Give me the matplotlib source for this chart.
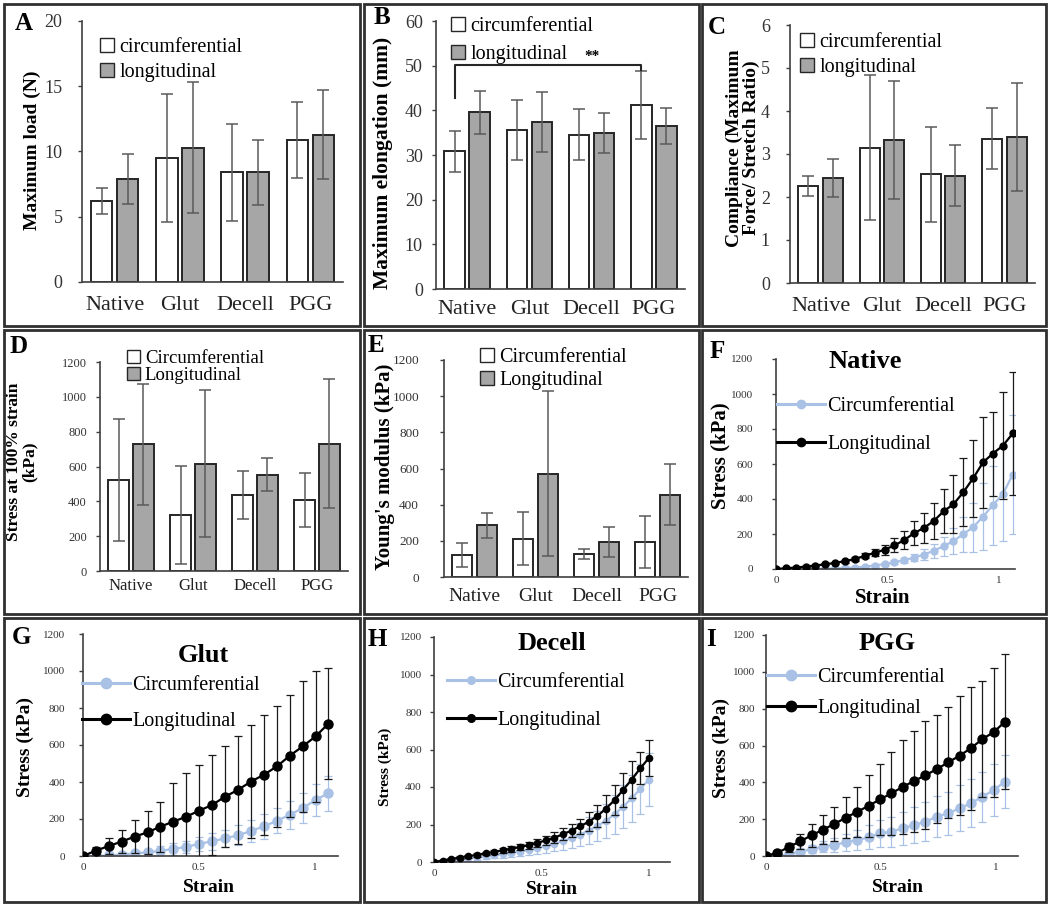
import numpy as np
import matplotlib
matplotlib.use('Agg')
import matplotlib.pyplot as plt
from matplotlib.patches import Patch, Rectangle
from matplotlib.lines import Line2D

plt.rcParams['font.family'] = ['Liberation Serif', 'DejaVu Serif']

# ------------------------------------ DATA ------------------------------------#
groups = ['Native', 'Glut', 'Decell', 'PGG']

load_circ = [6.2, 9.5, 8.4, 10.9]
load_circ_err = [1.0, 4.9, 3.7, 2.9]
load_long = [7.9, 10.3, 8.4, 11.3]
load_long_err = [1.9, 5.0, 2.5, 3.4]

elong_circ = [30.8, 35.6, 34.5, 41.2]
elong_circ_err = [4.5, 6.7, 5.7, 7.6]
elong_long = [39.6, 37.3, 35.0, 36.5]
elong_long_err = [4.8, 6.7, 4.5, 4.0]

comp_circ = [2.25, 3.15, 2.53, 3.36]
comp_circ_err = [0.23, 1.68, 1.1, 0.71]
comp_long = [2.44, 3.32, 2.5, 3.4]
comp_long_err = [0.45, 1.37, 0.7, 1.25]

stress_circ = [525, 321, 436, 407]
stress_circ_err = [350, 283, 140, 157]
stress_long = [728, 617, 554, 732]
stress_long_err = [348, 420, 96, 369]

modulus_circ = [124, 212, 125, 194]
modulus_circ_err = [66, 148, 28, 142]
modulus_long = [286, 572, 194, 456]
modulus_long_err = [68, 458, 81, 170]

native_strain = [0, 0.044, 0.088, 0.133, 0.177, 0.221, 0.265, 0.31, 0.354, 0.398, 0.442, 0.487, 0.531,
                 0.575, 0.619, 0.664, 0.708, 0.752, 0.796, 0.841, 0.885, 0.929, 0.973, 1.018, 1.062]
native_long = [0, 4, 8, 14, 20, 27, 35, 45, 57, 75, 92, 110, 135, 165, 205, 235, 275, 330, 370, 440,
               520, 610, 660, 705, 775]
native_long_err = [0, 1, 2, 3, 4, 5, 6, 8, 10, 14, 20, 28, 40, 52, 68, 84, 105, 125, 165, 195,
                   220, 260, 240, 305, 350]
native_circ = [0, 0, 0, 0, 1, 2, 3, 5, 8, 13, 20, 28, 38, 50, 65, 82, 105, 130, 160, 200,
               240, 300, 365, 430, 540]
native_circ_err = [0, 0, 0, 0, 0, 1, 1, 2, 3, 4, 6, 8, 11, 15, 22, 30, 40, 55, 75, 100,
                   140, 190, 225, 270, 340]

glut_strain = [0, 0.056, 0.111, 0.167, 0.223, 0.279, 0.334, 0.39, 0.446, 0.501, 0.557, 0.613,
               0.668, 0.724, 0.78, 0.836, 0.891, 0.947, 1.003, 1.058]
glut_long = [0, 29, 54, 78, 105, 128, 159, 186, 213, 245, 276, 321, 357, 402, 439, 484, 541, 592, 646, 715]
glut_long_err = [0, 20, 42, 63, 90, 117, 135, 207, 235, 248, 271, 275, 293, 307, 325, 328, 330, 352, 352, 300]
glut_circ = [0, 0, 3, 8, 14, 20, 28, 38, 50, 65, 80, 95, 112, 135, 160, 190, 222, 258, 303, 339]
glut_circ_err = [0, 0, 4, 9, 15, 18, 24, 30, 33, 40, 46, 48, 55, 58, 66, 68, 74, 82, 88, 95]

decell_strain = [0, 0.04, 0.08, 0.12, 0.16, 0.2, 0.24, 0.28, 0.32, 0.36, 0.4, 0.44, 0.48, 0.52,
                 0.56, 0.6, 0.64, 0.68, 0.72, 0.76, 0.8, 0.84, 0.88, 0.92, 0.96, 1.0]
decell_long = [0, 8, 16, 24, 31, 38, 46, 54, 62, 71, 80, 90, 102, 115, 130, 148, 168, 190, 215, 245,
               285, 330, 385, 440, 500, 555]
decell_long_err = [2, 3, 5, 6, 8, 9, 10, 12, 13, 15, 17, 19, 22, 25, 28, 32, 36, 42, 50, 58,
                   70, 80, 90, 100, 85, 95]
decell_circ = [0, 4, 9, 14, 19, 25, 30, 36, 42, 49, 56, 64, 74, 85, 98, 112, 128, 146, 168, 192,
               220, 255, 295, 340, 390, 440]
decell_circ_err = [3, 5, 7, 9, 11, 12, 14, 16, 18, 20, 23, 26, 30, 35, 40, 46, 52, 60, 70, 80,
                   92, 105, 115, 125, 135, 140]

pgg_strain = [0, 0.05, 0.099, 0.149, 0.198, 0.248, 0.297, 0.347, 0.396, 0.446, 0.495, 0.545,
              0.594, 0.644, 0.693, 0.743, 0.792, 0.842, 0.891, 0.941, 0.99, 1.04]
pgg_long = [0, 18, 48, 80, 112, 143, 174, 208, 240, 272, 307, 340, 375, 407, 438, 472, 508, 545,
            585, 635, 672, 730]
pgg_long_err = [0, 10, 25, 40, 63, 78, 94, 112, 135, 169, 194, 227, 257, 274, 293, 295, 302, 322,
                334, 317, 349, 365]
pgg_circ = [0, 0, 10, 24, 36, 51, 60, 74, 87, 101, 123, 132, 150, 168, 186, 214, 232, 259, 286,
            322, 358, 404]
pgg_circ_err = [0, 0, 8, 15, 22, 30, 38, 45, 55, 65, 75, 82, 90, 98, 105, 110, 118, 125, 130,
                135, 140, 145]

# ---------------------------------- LAYOUT ------------------------------------#
W, H = 1050, 907
DARK = '#303030'
GREY = '#a6a6a6'
LBLUE = '#a9c1e5'

fig = plt.figure(figsize=(W / 100, H / 100), dpi=100)


def box(l, t, r, b):
    return [l / W, 1 - b / H, (r - l) / W, (b - t) / H]


def fpos(x, y):
    return x / W, 1 - y / H


# panel frames
cols = [(4, 360), (364, 699), (702, 1046)]
rows = [(4, 326), (330, 614), (618, 902)]
for (t, b) in rows:
    for (l, r) in cols:
        fig.patches.append(Rectangle((l / W, 1 - b / H), (r - l) / W, (b - t) / H,
                                     transform=fig.transFigure, fill=False,
                                     edgecolor=DARK, linewidth=2))


def style_axes(ax, tick_fs, ypad):
    for s in ['top', 'right']:
        ax.spines[s].set_visible(False)
    for s in ['left', 'bottom']:
        ax.spines[s].set_color('#404040')
        ax.spines[s].set_linewidth(1.2)
    ax.tick_params(axis='y', direction='out', length=3, width=1, color='#404040',
                   labelsize=tick_fs, labelcolor='#333333', pad=ypad)


def label_y(ax, rect, text, px, py, fs):
    l, t, r, b = rect
    ax.set_ylabel(text, fontsize=fs, fontweight='bold', ha='center', va='center',
                  linespacing=1.0)
    ax.yaxis.set_label_coords((px - l) / (r - l), (b - py) / (b - t))


def bar_panel(rect, circ, circ_err, long_, long_err, ymax, step, ylab, ylab_xy, ylab_fs,
              leg_labels, leg_xy, leg_spacing, leg_fs, tick_fs, ypad, cat_fs, cat_pad):
    ax = fig.add_axes(box(*rect))
    x = np.arange(len(groups))
    ekw = dict(ecolor='#5a5a5a', elinewidth=1.1, capsize=4, capthick=1.1)
    ax.bar(x - 0.2, circ, 0.33, yerr=circ_err, color='white', edgecolor='#262626',
           linewidth=1.4, error_kw=ekw)
    ax.bar(x + 0.2, long_, 0.33, yerr=long_err, color=GREY, edgecolor='#262626',
           linewidth=1.4, error_kw=ekw)
    ax.set_xlim(-0.5, 3.5)
    ax.set_ylim(0, ymax)
    ax.set_yticks(np.arange(0, ymax + step / 2, step))
    ax.set_xticks(x)
    ax.set_xticklabels(groups, fontsize=cat_fs, color='#222222')
    style_axes(ax, tick_fs, ypad)
    ax.tick_params(axis='x', length=0, pad=cat_pad)
    label_y(ax, rect, ylab, ylab_xy[0], ylab_xy[1], ylab_fs)
    handles = [Patch(facecolor='white', edgecolor='#262626', linewidth=1),
               Patch(facecolor=GREY, edgecolor='#262626', linewidth=1)]
    fig.legend(handles, leg_labels, loc='upper left', bbox_to_anchor=fpos(*leg_xy),
               frameon=False, fontsize=leg_fs, handlelength=0.7, handleheight=0.7,
               handletextpad=0.25, labelspacing=leg_spacing, borderpad=0, borderaxespad=0)
    return ax


def curve_panel(rect, strain, circ, circ_err, long_, long_err, xmax, ms, title, title_xy,
                ylab_xy, ylab_fs, xlab_xy, xlab_fs, ypad, leg_xy, leg_spacing):
    ax = fig.add_axes(box(*rect))
    ax.errorbar(strain, circ, yerr=circ_err, fmt='-o', color=LBLUE, ms=ms, lw=1.6,
                elinewidth=0.9, capsize=3, capthick=0.9, ecolor=LBLUE, zorder=2)
    ax.errorbar(strain, long_, yerr=long_err, fmt='-o', color='black', ms=ms, lw=1.6,
                elinewidth=0.9, capsize=3, capthick=0.9, ecolor='#1a1a1a', zorder=3)
    ax.set_xlim(0, xmax)
    ax.set_ylim(0, 1200)
    ax.set_yticks(np.arange(0, 1201, 200))
    ax.set_xticks([0, 0.5, 1])
    ax.set_xticklabels(['0', '0.5', '1'])
    style_axes(ax, 8, ypad)
    ax.tick_params(axis='x', length=0, pad=5, labelsize=8, labelcolor='#333333')
    l, t, r, b = rect
    ax.text((title_xy[0] - l) / (r - l), (b - title_xy[1]) / (b - t), title,
            transform=ax.transAxes, ha='center', va='center', fontsize=19, fontweight='bold')
    label_y(ax, rect, 'Stress (kPa)', ylab_xy[0], ylab_xy[1], ylab_fs)
    ax.set_xlabel('Strain', fontsize=xlab_fs, fontweight='bold', ha='center', va='center')
    ax.xaxis.set_label_coords((xlab_xy[0] - l) / (r - l), (b - xlab_xy[1]) / (b - t))
    handles = [Line2D([], [], color=LBLUE, marker='o', ms=ms + 1, lw=2.2),
               Line2D([], [], color='black', marker='o', ms=ms + 1, lw=2.2)]
    fig.legend(handles, ['Circumferential', 'Longitudinal'], loc='upper left',
               bbox_to_anchor=fpos(*leg_xy), frameon=False, fontsize=14.5,
               handlelength=2.4, handletextpad=0.1, labelspacing=leg_spacing,
               borderpad=0, borderaxespad=0)
    return ax


# ---------------------------------- PANELS ------------------------------------#
rectA = (82, 21, 343, 282)
bar_panel(rectA, load_circ, load_circ_err, load_long, load_long_err, 20, 5,
          'Maximum load (N)', (32, 150), 14, ['circumferential', 'longitudinal'],
          (100, 38), 0.3, 14.5, 13, 11, 16, 10)

rectB = (436, 21, 685, 289)
axB = bar_panel(rectB, elong_circ, elong_circ_err, elong_long, elong_long_err, 60, 10,
                'Maximum elongation (mm)', (383, 163), 15.5, ['circumferential', 'longitudinal'],
                (451, 17), 0.45, 14.5, 13, 6.5, 16, 8)
axB.plot([-0.2, -0.2, 2.8, 2.8], [42.7, 50.1, 50.1, 49], color='#262626', lw=1.5)
axB.text(2.0, 50.6, '**', ha='center', va='bottom', fontsize=11, fontweight='bold')

rectC = (790, 25, 1035, 283)
bar_panel(rectC, comp_circ, comp_circ_err, comp_long, comp_long_err, 6, 1,
          'Compliance (Maximum\nForce/ Stretch Ratio)', (743, 148), 14,
          ['circumferential', 'longitudinal'], (800, 33), 0.3, 14.5, 13, 11.5, 16, 10)

rectD = (100, 362, 348, 571)
bar_panel(rectD, stress_circ, stress_circ_err, stress_long, stress_long_err, 1200, 200,
          'Stress at 100% strain\n(kPa)', (22, 462), 12.5, ['Circumferential', 'Longitudinal'],
          (127, 350), 0.0, 13.5, 9, 6.5, 12, 5)

rectE = (444, 360, 688, 577)
bar_panel(rectE, modulus_circ, modulus_circ_err, modulus_long, modulus_long_err, 1200, 200,
          "Young's modulus (kPa)", (385, 467), 15, ['Circumferential', 'Longitudinal'],
          (480, 348), 0.2, 14.5, 9.5, 15, 14, 8)

rectF = (776, 359, 1015, 569)
curve_panel(rectF, native_strain, native_circ, native_circ_err, native_long, native_long_err,
            1.072, 5, 'Native', (865, 361), (720, 456), 15, (883, 598), 15, 13.5,
            (777, 397), 0.95)

rectG = (83, 634, 338, 856)
curve_panel(rectG, glut_strain, glut_circ, glut_circ_err, glut_long, glut_long_err,
            1.10, 6.5, 'Glut', (203, 656), (25, 747), 14, (209, 888), 14, 10,
            (82, 676), 0.85)

rectH = (434, 637, 670, 862)
curve_panel(rectH, decell_strain, decell_circ, decell_circ_err, decell_long, decell_long_err,
            1.098, 4.5, 'Decell', (552, 643), (385, 767), 11, (552, 889), 14, 5.8,
            (447, 673), 0.95)

rectI = (766, 635, 1018, 856)
curve_panel(rectI, pgg_strain, pgg_circ, pgg_circ_err, pgg_long, pgg_long_err,
            1.096, 6.5, 'PGG', (887, 644), (721, 748), 14, (898, 887), 14, 5,
            (767, 668), 0.6)

# panel letters
for letter, (px, py) in zip('ABCDEFGHI', [(24, 23), (382, 18), (717, 27), (19, 346), (376, 345),
                                          (717, 352), (21, 637), (377, 639), (711, 639)]):
    fig.text(*fpos(px, py), letter, ha='center', va='center', fontsize=18, fontweight='bold')

fig.savefig('out.png', dpi=100)
